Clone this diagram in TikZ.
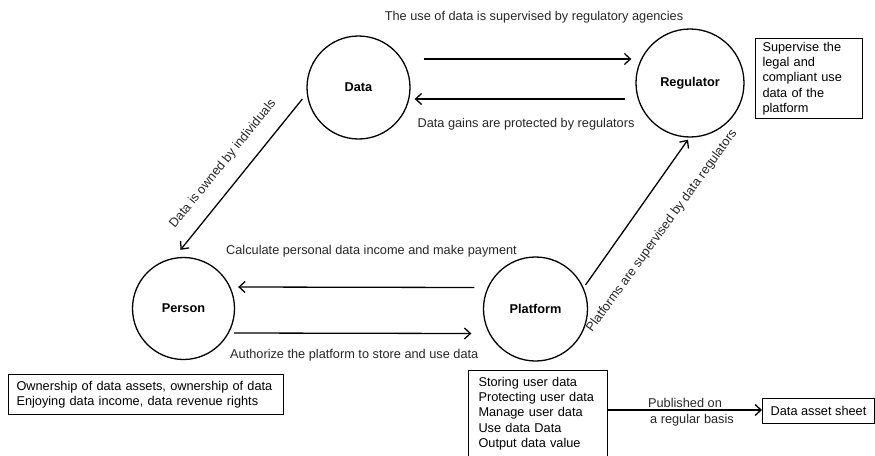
\documentclass[tikz,border=0pt]{standalone}
\usepackage{fontspec}
\setmainfont{Liberation Sans}
\usetikzlibrary{arrows.meta,calc}
\begin{document}
\begin{tikzpicture}[x=1pt,y=-1pt,
  every node/.style={font=\fontsize{12.75}{15.3}\selectfont, inner sep=0pt},
  entity/.style={circle, draw, line width=1.3pt, minimum size=#1, font=\fontsize{12.75}{15.3}\selectfont\bfseries},
  arr/.style={line width=1.3pt, -{Straight Barb[length=6pt,width=11pt,line width=1.3pt]}},
  note/.style={draw, line width=1pt, align=left, anchor=north west, inner ysep=3pt},
  lbl/.style={text=black!85}]
\useasboundingbox (0,0) rectangle (875,455);
% entities
\node[entity=103pt] (data) at (358.5,87.5) {Data};
\node[entity=108pt] (reg) at (690,83) {Regulator};
\node[entity=102pt] (person) at (183.5,308.5) {Person};
\node[entity=104pt] (plat) at (535.5,309) {Platform};
% notes
\node[note, inner xsep=7pt, text width=93pt, minimum height=80pt] (regnote) at (755,38)
  {Supervise the\\legal and\\compliant use\\data of the\\platform};
\node[note, inner xsep=8pt, text width=259pt, minimum height=40pt] (pernote) at (8,374)
  {Ownership of data assets, ownership of data\\Enjoying data income, data revenue rights};
\node[note, inner xsep=10pt, text width=119pt, minimum height=86pt, inner ysep=4pt] (platnote) at (468,370)
  {Storing user data\\Protecting user data\\Manage user data\\Use data Data\\Output data value};
\node[draw, line width=1pt, minimum width=112pt, minimum height=25pt, anchor=north west] (sheet) at (762,398)
  {Data asset sheet};
% connectors
\draw[arr] ([shift={(13,-28.5)}]data.east) -- ([shift={(-4,-24)}]reg.west);
\draw[arr] ([shift={(-10,16)}]reg.west) -- ([shift={(4,11.5)}]data.east);
\draw[arr] ([shift={(-4,11.5)}]data.west) -- ([shift={(-3,-7)}]person.north);
\draw[arr] ([shift={(-8.5,-21.5)}]plat.west) -- ([shift={(3,-21.5)}]person.east);
\draw[arr] ([shift={(-1,24.5)}]person.east) -- ([shift={(-11.5,24.5)}]plat.west);
\draw[arr] ([shift={(50,-24)}]plat.center) -- ([shift={(-2,2)}]reg.south);
\draw[arr] (platnote.east |- 0,410) -- (sheet.west |- 0,410);
% labels
\node[lbl] at (534,17) {The use of data is supervised by regulatory agencies};
\node[lbl] at (526,124) {Data gains are protected by regulators};
\node[lbl, rotate=51] at (223,164) {Data is owned by individuals};
\node[lbl, rotate=54] at (662,231) {Platforms are supervised by data regulators};
\node[lbl, anchor=west] at (226,251) {Calculate personal data income and make payment};
\node[lbl, anchor=west] at (230,355) {Authorize the platform to store and use data};
\node[lbl] at (685,403) {Published on};
\node[lbl] at (692,420) {a regular basis};
\end{tikzpicture}
\end{document}
